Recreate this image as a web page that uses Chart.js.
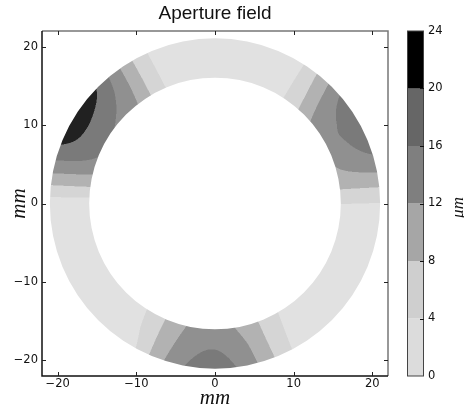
<!DOCTYPE html>
<html><head><meta charset="utf-8">
<script src="https://cdn.jsdelivr.net/npm/chart.js@4.4.0/dist/chart.umd.min.js"></script>
<style>html,body{margin:0;padding:0;background:#fff}</style>
</head><body>
<canvas id="c" width="464" height="415"></canvas>
<script>
// ---- data ----
const angles = [0,10,20,30,40,50,60,70,80,90,100,110,120,130,140,150,160,170,180,190,200,210,220,230,240,250,260,270,280,290,300,310,320,330,340,350]; // degrees
const radii = [16, 18.5, 21]; // mm: inner edge, middle, outer edge
const innerValues = [4.1,10.0,12.7,15.0,12.3,7.3,3.0,1.5,1.2,1.0, 1.2,2.8,7.7,13.0,15.5,16.5,15.5,9.8,2.4,1.5, 1.5,1.5,1.5,1.5,5.1,9.3,13.0,15.5,11.6,8.0, 4.0,1.0,1.5,1.5,1.5,1.8];
const midValues   = [4.0,10.7,15.0,16.2,14.4,8.3,2.9,1.5,1.2,1.0, 1.2,2.4,7.9,14.6,18.0,19.4,17.7,10.7,2.5,1.5, 1.5,1.5,1.5,1.5,4.4,10.0,14.5,15.9,13.5,8.3, 3.5,1.0,1.5,1.5,1.5,1.8];
const outerValues = [3.9,11.4,17.2,18.3,16.5,9.4,2.7,1.5,1.2,1.0, 1.2,2.0,8.0,16.0,22.0,23.0,19.5,11.5,2.5,1.5, 1.5,1.5,1.5,1.5,3.3,10.7,16.2,17.8,14.9,8.7, 3.0,1.0,1.5,1.5,1.5,1.8];
const levels = [0,4,8,12,16,20,24]; // µm
const levelColors = ['#dcdcdc','#cfcfcf','#a6a6a6','#7f7f7f','#666666','#000000'];
const fillAlpha = 0.87;
const axisTicks = [-20,-10,0,10,20];
const colorbarTicks = [0,4,8,12,16,20,24];

// ---- helpers ----
const rows = [innerValues, midValues, outerValues];
const bandRGB = levelColors.map(h => { const n = parseInt(h.slice(1),16); return [(n>>16)&255,(n>>8)&255,n&255].map(c => Math.round(c*fillAlpha + 255*(1-fillAlpha))); });
function cr(p0,p1,p2,p3,f){ return 0.5*((2*p1)+(-p0+p2)*f+(2*p0-5*p1+4*p2-p3)*f*f+(-p0+3*p1-3*p2+p3)*f*f*f); }
function fieldValue(thDeg, r){
  const n = angles.length, step = 360/n;
  const t = ((thDeg%360)+360)%360;
  const i = Math.floor(t/step), f = (t - angles[i])/step;
  const v = rows.map(row => cr(row[(i-1+n)%n], row[i%n], row[(i+1)%n], row[(i+2)%n], f));
  for (let k=0;k<radii.length-1;k++){
    if (r <= radii[k+1] || k === radii.length-2){
      const u = (r - radii[k])/(radii[k+1]-radii[k]);
      return v[k] + (v[k+1]-v[k])*u;
    }
  }
}
function bandIndex(v){
  for (let k=levels.length-2;k>=0;k--) if (v >= levels[k]) return k;
  return 0;
}
const fmt = v => v < 0 ? '\u2212' + Math.abs(v) : String(v);
const tickFont = {family:'DejaVu Sans', size:11.5};

const contourPlugin = {
  id:'contourField',
  beforeDatasetsDraw(chart){
    const {ctx, chartArea:a, scales:{x:xs, y:ys}} = chart;
    const x0 = Math.floor(a.left), y0 = Math.floor(a.top);
    const w = Math.ceil(a.right)-x0, h = Math.ceil(a.bottom)-y0;
    const off = document.createElement('canvas'); off.width = w; off.height = h;
    const octx = off.getContext('2d');
    const img = octx.createImageData(w,h), d = img.data;
    const sub = [0.25,0.75];
    const rMin = radii[0], rMax = radii[radii.length-1];
    for (let py=0; py<h; py++) for (let px=0; px<w; px++){
      let R=0,G=0,B=0,n=0;
      for (const sy of sub) for (const sx of sub){
        const vx = xs.getValueForPixel(x0+px+sx), vy = ys.getValueForPixel(y0+py+sy);
        let r = Math.hypot(vx,vy);
        if (r < rMin-1.5 || r > rMax+1.5) continue;
        r = Math.min(Math.max(r,rMin),rMax);
        const c = bandRGB[bandIndex(fieldValue(Math.atan2(vy,vx)*180/Math.PI, r))];
        R+=c[0]; G+=c[1]; B+=c[2]; n++;
      }
      if (!n) continue;
      const idx = (py*w+px)*4;
      d[idx]=R/n; d[idx+1]=G/n; d[idx+2]=B/n; d[idx+3]=255;
    }
    octx.putImageData(img,0,0);
    const cx = xs.getPixelForValue(0), cy = ys.getPixelForValue(0);
    const Ro = xs.getPixelForValue(rMax)-cx, Ri = xs.getPixelForValue(rMin)-cx;
    ctx.save();
    ctx.beginPath();
    ctx.arc(cx,cy,Ro,0,Math.PI*2);
    ctx.arc(cx,cy,Ri,0,Math.PI*2,true);
    ctx.clip('evenodd');
    ctx.drawImage(off,x0,y0);
    ctx.restore();
  },
  afterDatasetsDraw(chart){
    const {ctx, chartArea:a, scales:{x:xs, y:ys, cb}} = chart;
    ctx.save();
    // spines
    ctx.lineWidth = 1.5;
    ctx.strokeStyle = '#777';
    ctx.beginPath(); ctx.moveTo(a.left,a.top); ctx.lineTo(a.right,a.top); ctx.lineTo(a.right,a.bottom); ctx.stroke();
    ctx.strokeStyle = '#111';
    ctx.beginPath(); ctx.moveTo(a.left,a.top); ctx.lineTo(a.left,a.bottom); ctx.lineTo(a.right,a.bottom); ctx.stroke();
    // inward ticks on all four sides
    ctx.lineWidth = 1; ctx.strokeStyle = '#222';
    ctx.beginPath();
    for (const v of axisTicks){
      const px = Math.round(xs.getPixelForValue(v))+0.5;
      ctx.moveTo(px,a.bottom); ctx.lineTo(px,a.bottom-4);
      ctx.moveTo(px,a.top); ctx.lineTo(px,a.top+4);
      const py = Math.round(ys.getPixelForValue(v))+0.5;
      ctx.moveTo(a.left,py); ctx.lineTo(a.left+4,py);
      ctx.moveTo(a.right,py); ctx.lineTo(a.right-4,py);
    }
    ctx.stroke();
    // colorbar
    const bx = cb.left + 19, bw = 17;
    for (let k=0;k<levels.length-1;k++){
      const yA = cb.getPixelForValue(levels[k]), yB = cb.getPixelForValue(levels[k+1]);
      ctx.fillStyle = levelColors[k];
      ctx.fillRect(bx, yB, bw, yA-yB);
    }
    const yTop = cb.getPixelForValue(levels[levels.length-1]), yBot = cb.getPixelForValue(levels[0]);
    ctx.strokeStyle = '#444'; ctx.lineWidth = 1;
    ctx.strokeRect(bx+0.5, yTop, bw-1, yBot-yTop);
    ctx.strokeStyle = '#111';
    ctx.beginPath();
    for (const v of colorbarTicks.slice(1,-1)){
      const py = Math.round(cb.getPixelForValue(v))+0.5;
      ctx.moveTo(bx+bw,py); ctx.lineTo(bx+bw-4,py);
    }
    ctx.stroke();
    // colorbar label
    ctx.translate(cb.left+71, (yTop+yBot)/2+4);
    ctx.rotate(-Math.PI/2);
    ctx.fillStyle = '#111';
    ctx.font = 'italic 17px "Liberation Serif"';
    ctx.textAlign = 'center'; ctx.textBaseline = 'middle';
    ctx.fillText('\u03bcm',0,0);
    ctx.restore();
  }
};

new Chart(document.getElementById('c'), {
  type:'scatter',
  data:{datasets:[]},
  plugins:[contourPlugin],
  options:{
    responsive:false, animation:false, devicePixelRatio:1,
    layout:{padding:0},
    plugins:{
      legend:{display:false}, tooltip:{enabled:false},
      title:{display:true, text:'Aperture field', fullSize:false, color:'#111',
        font:{family:'Liberation Sans', size:19, weight:'normal'}, padding:{top:2.6,bottom:5.6}}
    },
    scales:{
      x:{type:'linear', min:-22, max:22,
        afterBuildTicks:s=>{s.ticks = axisTicks.map(v=>({value:v}));},
        afterFit:s=>{s.height = 39;},
        grid:{display:false, drawTicks:false}, border:{display:false},
        ticks:{callback:fmt, padding:1, color:'#111', font:tickFont, autoSkip:false, maxRotation:0},
        title:{display:true, text:'mm', color:'#111', font:{family:'Liberation Serif', style:'italic', size:21}, padding:{top:0,bottom:3.5}}
      },
      y:{type:'linear', min:-22, max:22,
        afterBuildTicks:s=>{s.ticks = axisTicks.map(v=>({value:v}));},
        afterFit:s=>{s.width = 42;},
        grid:{display:false, drawTicks:false}, border:{display:false},
        ticks:{callback:fmt, padding:4, color:'#111', font:tickFont, autoSkip:false},
        title:{display:true, text:'mm', color:'#111', font:{family:'Liberation Serif', style:'italic', size:21}, padding:{top:7,bottom:0}}
      },
      cb:{type:'linear', position:'right', axis:'y', min:0, max:24,
        afterBuildTicks:s=>{s.ticks = colorbarTicks.map(v=>({value:v}));},
        afterFit:s=>{s.width = 76;},
        grid:{display:true, drawOnChartArea:false, drawTicks:true, tickLength:37, tickColor:'rgba(0,0,0,0)', color:'rgba(0,0,0,0)'},
        border:{display:false},
        ticks:{padding:3, color:'#111', font:tickFont, autoSkip:false}
      }
    }
  }
});
</script>
</body></html>
